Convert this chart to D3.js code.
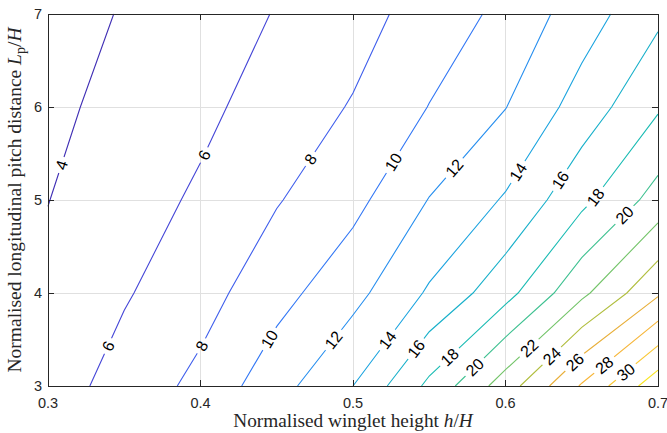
<!DOCTYPE html>
<html><head><meta charset="utf-8">
<script src="https://cdn.jsdelivr.net/npm/d3@7"></script>
<style>body{margin:0;background:#fff}svg{display:block}</style>
</head><body><svg id="chart" width="667" height="433"></svg>
<script>
// ---- data ----
const xValues = [0.3, 0.35, 0.4, 0.45, 0.5, 0.55, 0.6, 0.65, 0.7];
const yValues = [3, 4, 5, 6, 7];
const zAtY3 = [5.04, 6.79, 8.53, 11.25, 14.0, 18.45, 23.0, 28.2, 33.3];
const zAtY4 = [4.41, 5.82, 7.23, 9.30, 11.38, 14.25, 17.3, 21.54, 25.7];
const zAtY5 = [3.97, 5.12, 6.30, 7.87, 9.42, 12.07, 14.2, 17.5, 20.8];
const zAtY6 = [3.58, 4.57, 5.55, 6.86, 8.14, 10.05, 11.95, 14.86, 17.77];
const zAtY7 = [3.25, 4.12, 4.99, 6.10, 7.21, 8.86, 10.49, 13.03, 15.58];
const levels = [4, 6, 8, 10, 12, 14, 16, 18, 20, 22, 24, 26, 28, 30, 32];
const xTicks = [0.3, 0.4, 0.5, 0.6, 0.7];
const yTicks = [3, 4, 5, 6, 7];
// contour label spots: [level, y value where the label sits]
const labelLevels = [4, 6, 8, 10, 12, 14, 16, 18, 20, 6, 8, 10, 12, 14, 16, 18, 20, 22, 24, 26, 28, 30];
const labelYs = [5.376, 5.484, 5.441, 5.409, 5.344, 5.301, 5.215, 5.03, 4.839,
                 3.430, 3.430, 3.505, 3.495, 3.495, 3.40, 3.312, 3.204, 3.409, 3.323, 3.258, 3.226, 3.151];

const Z = [zAtY3, zAtY4, zAtY5, zAtY6, zAtY7];

// ---- layout ----
const W = 667, H = 433;
const m = {left: 48, right: 9, top: 14, bottom: 47};
const svg = d3.select('#chart');
const x = d3.scaleLinear().domain([0.3, 0.7]).range([m.left, W - m.right]);
const y = d3.scaleLinear().domain([3, 7]).range([H - m.bottom, m.top]);

// parula-like colormap
const parulaPos = [0, 0.12, 0.25, 0.37, 0.5, 0.6, 0.68, 0.76, 0.85, 0.93, 1];
const parulaCol = ['#3e26a8', '#4750e6', '#2d81f9', '#18a7dc', '#19bcb0', '#5cc57a', '#a8c040', '#eaae3a', '#fbb93a', '#f7d52a', '#f9fb0e'];
const cmap = d3.scaleLinear().domain(parulaPos).range(parulaCol).interpolate(d3.interpolateRgb);
const zMin = d3.min(Z.flat()), zMax = d3.max(Z.flat());
const color = L => cmap((L - zMin) / (zMax - zMin));

// grid
const g = svg.append('g');
g.selectAll('.gx').data(xTicks.slice(1, -1)).join('line')
  .attr('x1', d => x(d)).attr('x2', d => x(d)).attr('y1', y(3)).attr('y2', y(7))
  .attr('stroke', '#e0e0e0').attr('stroke-width', 1).attr('shape-rendering', 'crispEdges');
g.selectAll('.gy').data(yTicks.slice(1, -1)).join('line')
  .attr('y1', d => y(d)).attr('y2', d => y(d)).attr('x1', x(0.3)).attr('x2', x(0.7))
  .attr('stroke', '#e0e0e0').attr('stroke-width', 1).attr('shape-rendering', 'crispEdges');

// ---- marching squares ----
function contourLines(L) {
  const pts = new Map(), adj = new Map();
  const nx = xValues.length, ny = yValues.length;
  const hPt = (j, i) => { const k = 'h' + j + '_' + i; if (!pts.has(k)) { const a = Z[j][i], b = Z[j][i + 1], t = (L - a) / (b - a); pts.set(k, [xValues[i] + t * (xValues[i + 1] - xValues[i]), yValues[j]]); } return k; };
  const vPt = (j, i) => { const k = 'v' + j + '_' + i; if (!pts.has(k)) { const a = Z[j][i], b = Z[j + 1][i], t = (L - a) / (b - a); pts.set(k, [xValues[i], yValues[j] + t * (yValues[j + 1] - yValues[j])]); } return k; };
  const link = (a, b) => { if (!adj.has(a)) adj.set(a, []); if (!adj.has(b)) adj.set(b, []); adj.get(a).push(b); adj.get(b).push(a); };
  const cr = (a, b) => (a < L) !== (b < L);
  for (let j = 0; j < ny - 1; j++) for (let i = 0; i < nx - 1; i++) {
    const a = Z[j][i], b = Z[j][i + 1], c = Z[j + 1][i + 1], d = Z[j + 1][i];
    const e = [];
    if (cr(a, b)) e.push(hPt(j, i));
    if (cr(b, c)) e.push(vPt(j, i + 1));
    if (cr(d, c)) e.push(hPt(j + 1, i));
    if (cr(a, d)) e.push(vPt(j, i));
    if (e.length === 2) link(e[0], e[1]);
    else if (e.length === 4) { link(e[0], e[1]); link(e[2], e[3]); }
  }
  const seen = new Set(), lines = [];
  const walk = s => { const out = [s]; seen.add(s); let cur = s; for (;;) { const nxt = adj.get(cur).find(n => !seen.has(n)); if (!nxt) break; seen.add(nxt); out.push(nxt); cur = nxt; } return out.map(k => pts.get(k)); };
  for (const [k, v] of adj) if (v.length === 1 && !seen.has(k)) lines.push(walk(k));
  for (const [k] of adj) if (!seen.has(k)) lines.push(walk(k));
  return lines;
}
const contourData = levels.map(L => ({L, lines: contourLines(L)}));

// ---- labels & mask ----
const defs = svg.append('defs');
const mask = defs.append('mask').attr('id', 'lblmask').attr('maskUnits', 'userSpaceOnUse')
  .attr('x', 0).attr('y', 0).attr('width', W).attr('height', H);
mask.append('rect').attr('width', W).attr('height', H).attr('fill', '#fff');

const lineGen = d3.line().x(d => x(d[0])).y(d => y(d[1]));
const cl = svg.append('g').attr('mask', 'url(#lblmask)');
contourData.forEach(cd => cd.lines.forEach(ln => {
  cl.append('path').attr('d', lineGen(ln)).attr('fill', 'none')
    .attr('stroke', color(cd.L)).attr('stroke-width', 1.1);
}));

const lg = svg.append('g');
labelLevels.forEach((L, idx) => {
  const yv = labelYs[idx];
  const cd = contourData.find(c => c.L === L);
  let hit = null;
  cd.lines.forEach(ln => {
    for (let k = 0; k < ln.length - 1 && !hit; k++) {
      const p = ln[k], q = ln[k + 1];
      if ((p[1] - yv) * (q[1] - yv) <= 0 && p[1] !== q[1]) {
        const t = (yv - p[1]) / (q[1] - p[1]);
        hit = {px: x(p[0] + t * (q[0] - p[0])), py: y(yv),
               ang: Math.atan2(y(q[1]) - y(p[1]), x(q[0]) - x(p[0])) * 180 / Math.PI};
      }
    }
  });
  if (!hit) return;
  let a = hit.ang; if (a > 90) a -= 180; if (a <= -90) a += 180;
  const t = lg.append('text').attr('x', 0).attr('y', 0)
    .attr('transform', `translate(${hit.px},${hit.py}) rotate(${a})`)
    .attr('text-anchor', 'middle').attr('dy', '0.36em')
    .attr('font-family', 'Liberation Sans, Arial, sans-serif').attr('font-size', 16)
    .attr('fill', '#000').text(L);
  const w = t.node().getComputedTextLength();
  mask.append('rect').attr('x', -w / 2 - 4).attr('y', -9).attr('width', w + 8).attr('height', 18)
    .attr('transform', `translate(${hit.px},${hit.py}) rotate(${a})`).attr('fill', '#000');
});

// ---- axes box & ticks ----
const axc = '#262626';
const ax = svg.append('g').attr('shape-rendering', 'crispEdges');
ax.append('rect').attr('x', x(0.3)).attr('y', y(7)).attr('width', x(0.7) - x(0.3)).attr('height', y(3) - y(7))
  .attr('fill', 'none').attr('stroke', axc).attr('stroke-width', 1);
const tl = 6;
xTicks.forEach(v => {
  ax.append('line').attr('x1', x(v)).attr('x2', x(v)).attr('y1', y(3)).attr('y2', y(3) - tl).attr('stroke', axc);
  ax.append('line').attr('x1', x(v)).attr('x2', x(v)).attr('y1', y(7)).attr('y2', y(7) + tl).attr('stroke', axc);
});
yTicks.forEach(v => {
  ax.append('line').attr('y1', y(v)).attr('y2', y(v)).attr('x1', x(0.3)).attr('x2', x(0.3) + tl).attr('stroke', axc);
  ax.append('line').attr('y1', y(v)).attr('y2', y(v)).attr('x1', x(0.7)).attr('x2', x(0.7) - tl).attr('stroke', axc);
});
const fmtX = d3.format('.1f');
svg.append('g').selectAll('text').data(xTicks).join('text')
  .attr('x', d => x(d)).attr('y', y(3) + 22).attr('text-anchor', 'middle')
  .attr('font-family', 'Liberation Sans, Arial, sans-serif').attr('font-size', 14.5).attr('fill', axc)
  .text(d => fmtX(d));
svg.append('g').selectAll('text').data(yTicks).join('text')
  .attr('x', x(0.3) - 6).attr('y', d => y(d)).attr('dy', '0.36em').attr('text-anchor', 'end')
  .attr('font-family', 'Liberation Sans, Arial, sans-serif').attr('font-size', 14.5).attr('fill', axc)
  .text(d => d);

// ---- axis titles ----
const serif = 'Liberation Serif, Times New Roman, serif';
const xt = svg.append('text').attr('x', (x(0.3) + x(0.7)) / 2).attr('y', 427).attr('text-anchor', 'middle')
  .attr('font-family', serif).attr('font-size', 19.3).attr('fill', axc);
xt.append('tspan').text('Normalised winglet height ');
xt.append('tspan').attr('font-style', 'italic').text('h');
xt.append('tspan').text('/');
xt.append('tspan').attr('font-style', 'italic').text('H');

const yt = svg.append('text').attr('transform', `translate(21,${(y(3) + y(7)) / 2}) rotate(-90)`)
  .attr('text-anchor', 'middle').attr('font-family', serif).attr('font-size', 19.5).attr('fill', axc);
yt.append('tspan').text('Normalised longitudinal pitch distance ');
yt.append('tspan').attr('font-style', 'italic').text('L');
yt.append('tspan').attr('font-size', 14).attr('dy', 4).text('p');
yt.append('tspan').attr('dy', -4).text('/');
yt.append('tspan').attr('font-style', 'italic').text('H');
</script></body></html>
